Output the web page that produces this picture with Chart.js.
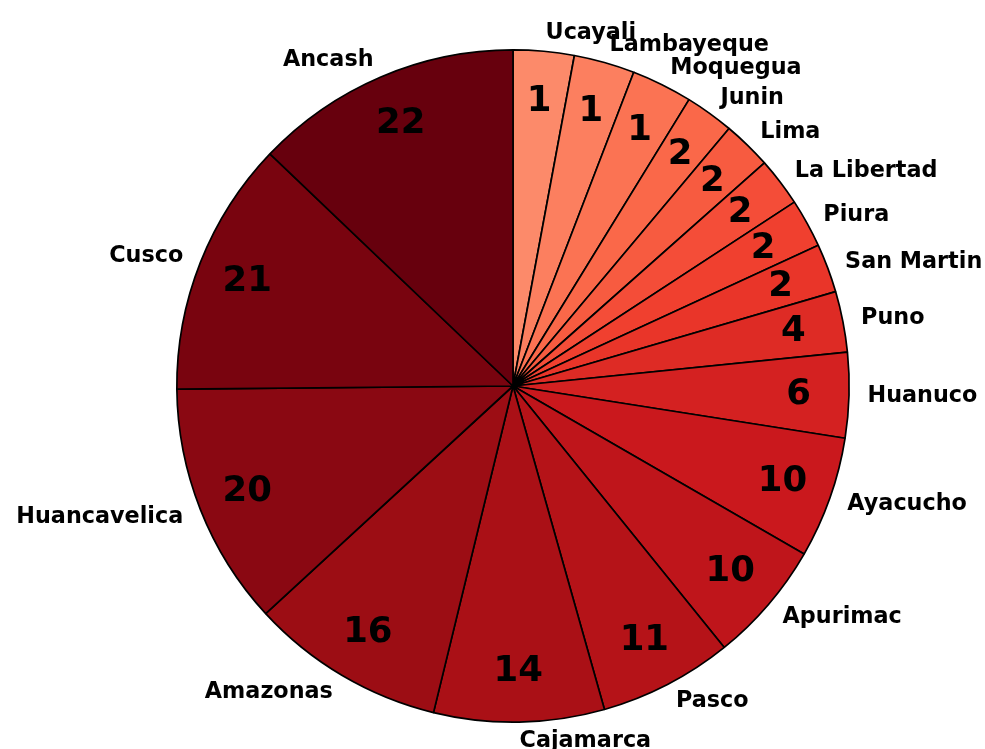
<!DOCTYPE html>
<html>
<head>
<meta charset="utf-8">
<script src="https://cdn.jsdelivr.net/npm/chart.js@4"></script>
<style>
  html, body { margin: 0; padding: 0; background: #fff; }
  #wrap { width: 985px; height: 749px; }
</style>
</head>
<body>
<div id="wrap"><canvas id="chart" width="985" height="749"></canvas></div>
<script>
// Regions, clockwise from the top
const regions = ["Ucayali", "Lambayeque", "Moquegua", "Junin", "Lima", "La Libertad",
  "Piura", "San Martin", "Puno", "Huanuco", "Ayacucho", "Apurimac", "Pasco",
  "Cajamarca", "Amazonas", "Huancavelica", "Cusco", "Ancash"];

// Size of each slice
const sliceShares = [5, 5, 5, 4, 4, 4, 4, 4, 5, 7, 10, 10, 11, 14, 16, 20, 21, 22];

// Number written inside each slice
const counts = [1, 1, 1, 2, 2, 2, 2, 2, 4, 6, 10, 10, 11, 14, 16, 20, 21, 22];

// matplotlib "Reds" colormap anchors, sampled from 0.4 to 1.0
const REDS = ["#fff5f0", "#fee0d2", "#fcbba1", "#fc9272", "#fb6a4a",
  "#ef3b2c", "#cb181d", "#a50f15", "#67000d"];

function reds(t) {
  const pos = Math.min(Math.max(t, 0), 1) * (REDS.length - 1);
  const i = Math.min(Math.floor(pos), REDS.length - 2);
  const f = pos - i;
  const a = REDS[i], b = REDS[i + 1];
  const ch = k => {
    const x = parseInt(a.substr(k, 2), 16), y = parseInt(b.substr(k, 2), 16);
    return Math.round(x + (y - x) * f);
  };
  return `rgb(${ch(1)},${ch(3)},${ch(5)})`;
}

const colors = regions.map((_, i) => reds(0.4 + 0.6 * i / (regions.length - 1)));

const FONT = "'DejaVu Sans', sans-serif";

// Draws the region names outside and the counts inside each slice
const sliceText = {
  id: "sliceText",
  afterDraw(chart) {
    const ctx = chart.ctx;
    const arcs = chart.getDatasetMeta(0).data;
    ctx.save();
    ctx.fillStyle = "#000";
    arcs.forEach((arc, i) => {
      const mid = (arc.startAngle + arc.endAngle) / 2;
      const cos = Math.cos(mid), sin = Math.sin(mid);
      const r = arc.outerRadius;

      // region name, matplotlib style: left/right aligned, centred vertically
      const labelSize = 22.3;
      ctx.font = `bold ${labelSize}px ${FONT}`;
      ctx.textAlign = cos > 0 ? "left" : "right";
      ctx.textBaseline = "alphabetic";
      ctx.fillText(regions[i], arc.x + cos * r * 1.055, arc.y + sin * r * 1.055 + labelSize * 0.276);

      // count inside the slice
      const numSize = 35.5;
      ctx.font = `bold ${numSize}px ${FONT}`;
      ctx.textAlign = "center";
      ctx.fillText(String(counts[i]), arc.x + cos * r * 0.85, arc.y + sin * r * 0.85 + numSize * 0.276);
    });
    ctx.restore();
  }
};

new Chart(document.getElementById("chart"), {
  type: "pie",
  data: {
    labels: regions,
    datasets: [{
      data: sliceShares,
      backgroundColor: colors,
      borderColor: "#000",
      borderWidth: 1.7,
      hoverOffset: 0,
      offset: 0,
    }],
  },
  options: {
    responsive: false,
    animation: false,
    layout: { padding: { left: 176, right: 135, top: 49, bottom: 26 } },
    plugins: {
      legend: { display: false },
      tooltip: { enabled: false },
    },
  },
  plugins: [sliceText],
});
</script>
</body>
</html>
